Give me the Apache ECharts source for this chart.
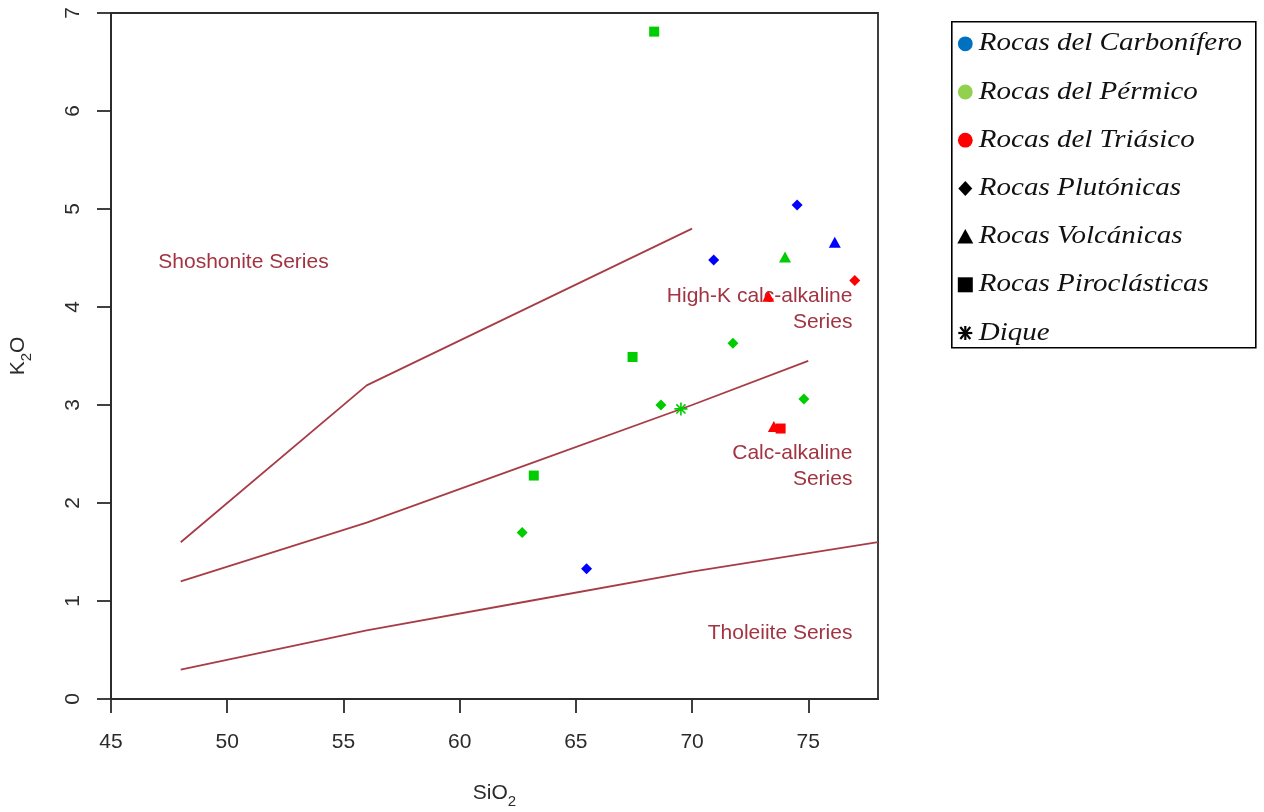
<!DOCTYPE html>
<html>
<head>
<meta charset="utf-8">
<script src="https://cdn.jsdelivr.net/npm/echarts@6/dist/echarts.min.js"></script>
<style>
html, body { margin: 0; padding: 0; background: #ffffff; }
#chart { width: 1264px; height: 812px; }
</style>
</head>
<body>
<div id="chart"></div>
<script>
// SiO2 vs K2O (wt%) for each sample, grouped by age and rock type
const carboniferousPlutonic = [[74.52, 5.04], [70.93, 4.48], [65.46, 1.33]];
const carboniferousVolcanic = [[76.14, 4.66]];
const permianPyroclastic = [[68.37, 6.81], [67.44, 3.49], [63.19, 2.28]];
const permianPlutonic = [[71.76, 3.63], [68.66, 3.00], [74.81, 3.06], [62.69, 1.70]];
const permianVolcanic = [[74.00, 4.51]];
const permianDike = [[69.52, 2.96]];
const triassicPlutonic = [[77.00, 4.27]];
const triassicVolcanic = [[73.28, 4.11], [73.52, 2.78]];
const triassicPyroclastic = [[73.81, 2.76]];

// Boundaries between the magmatic series (Peccerillo & Taylor style diagram)
const boundaryShoshonite = [[48, 1.6], [56, 3.2], [70, 4.8]];
const boundaryHighK = [[48, 1.2], [56, 1.8], [63, 2.4], [70, 3.0], [75, 3.45]];
const boundaryTholeiite = [[48, 0.3], [56, 0.7], [63, 1.0], [70, 1.3], [78, 1.6]];

// Field names and where they sit in SiO2 / K2O units
const fieldNames = ['Shoshonite Series', 'High-K calc-alkaline\nSeries', 'Calc-alkaline\nSeries', 'Tholeiite Series'];
const fieldAnchors = [[50.7, 4.46], [76.9, 3.98], [76.9, 2.38], [76.9, 0.67]];
const fieldAlign = ['center', 'right', 'right', 'right'];

// Axis ticks
const xTicks = [45, 50, 55, 60, 65, 70, 75];

// Legend entries
const legendNames = ['Rocas del Carbonífero', 'Rocas del Pérmico', 'Rocas del Triásico',
  'Rocas Plutónicas', 'Rocas Volcánicas', 'Rocas Piroclásticas', 'Dique'];
const legendMarks = ['circle', 'circle', 'circle', 'diamond', 'triangle', 'square', 'asterisk'];
const legendColors = ['#0070C0', '#92D050', '#FF0000', '#000000', '#000000', '#000000', '#000000'];

const BLUE = '#0000FF';
const GREEN = '#00CD00';
const RED = '#FF0000';
const BOUNDARY = '#A83C46';
const FIELD_TEXT = '#A23442';
const AXIS = '#2b2b2b';
const SANS = '"Liberation Sans", Arial, sans-serif';
const SERIF = '"Liberation Serif", "Times New Roman", serif';
const ASTERISK = 'path://M0,5L10,5M5,0L5,10M1.5,1.5L8.5,8.5M8.5,1.5L1.5,8.5';

function points(name, data, symbol, color, size) {
  const s = {
    type: 'scatter', name: name, data: data, symbol: symbol, symbolSize: size,
    itemStyle: { color: color, opacity: 1 }, z: 5, silent: true
  };
  if (symbol === ASTERISK) {
    s.itemStyle = { color: color, borderColor: color, borderWidth: 1.6, opacity: 1 };
  }
  return s;
}

function boundary(data) {
  return {
    type: 'line', data: data, symbol: 'none', silent: true, z: 3,
    lineStyle: { color: BOUNDARY, width: 1.8 }
  };
}

const fieldSeries = {
  type: 'scatter', silent: true, z: 4, symbolSize: 0,
  itemStyle: { opacity: 1 },
  data: fieldNames.map((n, i) => ({
    value: fieldAnchors[i], name: n,
    label: { align: fieldAlign[i] }
  })),
  label: {
    show: true, position: 'inside', formatter: p => p.name, opacity: 1,
    color: FIELD_TEXT, fontFamily: SANS, fontSize: 21, lineHeight: 26,
    verticalAlign: 'middle'
  }
};

// Legend box drawn at the right of the plot
const legendLeft = 951, legendTop = 21, legendW = 304, legendH = 326;
const rowStart = 22, rowStep = 48.2, markX = 13.5, textX = 27;
const legendElems = [{
  type: 'rect', shape: { x: 0, y: 0, width: legendW, height: legendH },
  style: { fill: '#ffffff', stroke: '#000000', lineWidth: 1.6 }
}];
legendNames.forEach((txt, i) => {
  const cy = rowStart + rowStep * i;
  const c = legendColors[i];
  const m = legendMarks[i];
  if (m === 'circle') {
    legendElems.push({ type: 'circle', shape: { cx: markX, cy: cy, r: 7.4 }, style: { fill: c } });
  } else if (m === 'diamond') {
    legendElems.push({ type: 'polygon', shape: { points: [[markX, cy - 7.5], [markX + 7, cy], [markX, cy + 7.5], [markX - 7, cy]] }, style: { fill: c } });
  } else if (m === 'triangle') {
    legendElems.push({ type: 'polygon', shape: { points: [[markX, cy - 7.5], [markX + 8, cy + 7], [markX - 8, cy + 7]] }, style: { fill: c } });
  } else if (m === 'square') {
    legendElems.push({ type: 'rect', shape: { x: markX - 7.5, y: cy - 7.5, width: 15, height: 15 }, style: { fill: c } });
  } else {
    const r = 7;
    [[-r, 0, r, 0], [0, -r, 0, r], [-5, -6, 5, 6], [5, -6, -5, 6]].forEach(l => {
      legendElems.push({ type: 'line', shape: { x1: markX + l[0], y1: cy + l[1], x2: markX + l[2], y2: cy + l[3] }, style: { stroke: c, lineWidth: 2.2 } });
    });
  }
  legendElems.push({
    type: 'text', x: textX, y: cy, scaleX: 1.16,
    style: { text: txt, x: 0, y: 0, fill: '#111111', font: 'italic 25px ' + SERIF, verticalAlign: 'middle', align: 'left' }
  });
});

const subRich = {
  m: { fontSize: 21, fontFamily: SANS, color: AXIS, verticalAlign: 'top', lineHeight: 22 },
  s: { fontSize: 15, fontFamily: SANS, color: AXIS, verticalAlign: 'top', lineHeight: 16, padding: [11, 0, 0, 0] }
};

const option = {
  animation: false,
  backgroundColor: '#ffffff',
  grid: {
    left: 111, right: 386, top: 13, bottom: 113,
    outerBoundsMode: 'none', containLabel: false,
    show: true, borderColor: AXIS, borderWidth: 1.8
  },
  xAxis: {
    type: 'value', min: 45, max: 78,
    name: '{m|SiO}{s|2}', nameLocation: 'middle', nameGap: 84,
    nameTextStyle: { rich: subRich },
    axisLine: { show: true, lineStyle: { color: AXIS, width: 1.8 } },
    axisTick: { show: true, length: 14, customValues: xTicks, lineStyle: { color: AXIS, width: 1.8 } },
    axisLabel: { customValues: xTicks, margin: 33, fontSize: 21, fontFamily: SANS, color: AXIS },
    splitLine: { show: false }
  },
  yAxis: {
    type: 'value', min: 0, max: 7, interval: 1,
    name: '{m|K}{s|2}{m|O}', nameLocation: 'middle', nameGap: 81, nameRotate: 90,
    nameTextStyle: { rich: subRich },
    axisLine: { show: true, lineStyle: { color: AXIS, width: 1.8 } },
    axisTick: { show: true, length: 14, lineStyle: { color: AXIS, width: 1.8 } },
    axisLabel: { rotate: 90, margin: 27, fontSize: 21, fontFamily: SANS, color: AXIS },
    splitLine: { show: false }
  },
  graphic: [{ type: 'group', left: legendLeft, top: legendTop, children: legendElems }],
  series: [
    boundary(boundaryShoshonite),
    boundary(boundaryHighK),
    boundary(boundaryTholeiite),
    fieldSeries,
    points('Carbonífero plutónicas', carboniferousPlutonic, 'diamond', BLUE, 11),
    points('Carbonífero volcánicas', carboniferousVolcanic, 'triangle', BLUE, [12, 11]),
    points('Pérmico piroclásticas', permianPyroclastic, 'rect', GREEN, 10),
    points('Pérmico plutónicas', permianPlutonic, 'diamond', GREEN, 11),
    points('Pérmico volcánicas', permianVolcanic, 'triangle', GREEN, [12, 11]),
    points('Dique', permianDike, ASTERISK, GREEN, 13),
    points('Triásico plutónicas', triassicPlutonic, 'diamond', RED, 11),
    points('Triásico volcánicas', triassicVolcanic, 'triangle', RED, [12, 11]),
    points('Triásico piroclásticas', triassicPyroclastic, 'rect', RED, 10)
  ]
};

const chart = echarts.init(document.getElementById('chart'), null, { renderer: 'canvas' });
chart.setOption(option);
</script>
</body>
</html>
